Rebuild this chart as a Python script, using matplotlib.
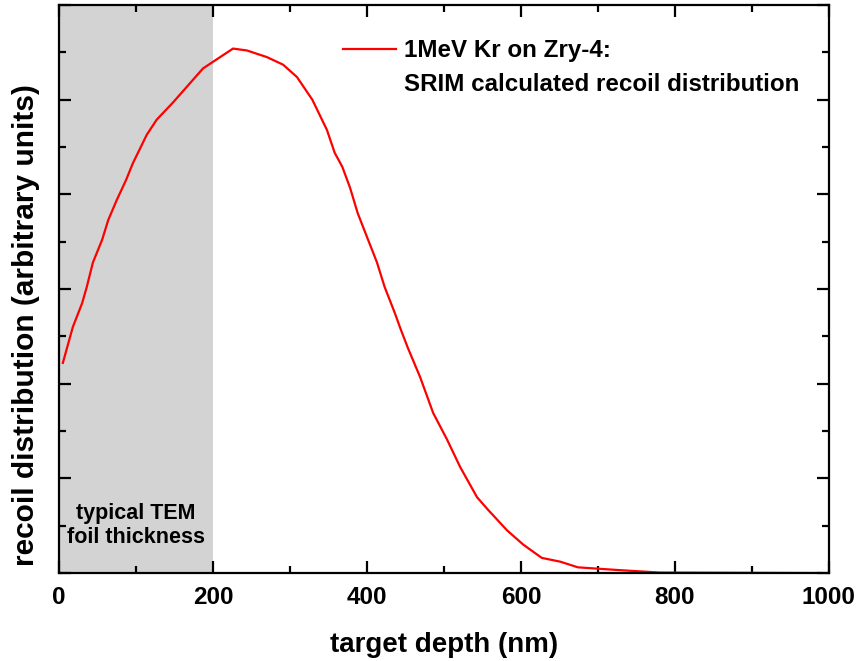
import matplotlib
matplotlib.use("Agg")
import matplotlib.pyplot as plt
from matplotlib.lines import Line2D
from matplotlib.ticker import MultipleLocator, NullFormatter

plt.rcParams['font.family'] = ['Liberation Sans', 'DejaVu Sans']
plt.rcParams['font.weight'] = 'bold'

# SRIM recoil profile, 1 MeV Kr into Zry-4 (arbitrary units)
depth_nm = [5, 18, 30, 36, 44, 56, 64, 75, 87, 96, 114, 127, 148, 174, 187, 200,
            226, 244, 270, 291, 309, 329, 348, 358, 368, 378, 388, 400, 413, 423,
            436, 444, 453, 469, 486, 504, 521, 543, 557, 582, 603, 627, 651, 674,
            729, 780, 988]
recoil = [2.22, 2.60, 2.85, 3.02, 3.28, 3.52, 3.73, 3.94, 4.15, 4.33, 4.63, 4.79,
          4.97, 5.21, 5.33, 5.40, 5.54, 5.52, 5.45, 5.37, 5.24, 5.00, 4.68, 4.44,
          4.29, 4.07, 3.80, 3.55, 3.28, 3.02, 2.75, 2.57, 2.38, 2.07, 1.69, 1.41,
          1.12, 0.80, 0.67, 0.45, 0.30, 0.16, 0.12, 0.06, 0.03, 0.005, 0.0]

foil_thickness = 200  # nm

fig = plt.figure(figsize=(8.59, 6.61), dpi=100)
ax = fig.add_axes([0.0687, 0.1331, 0.8963, 0.8593])

ax.axvspan(0, foil_thickness, color='#d3d3d3', lw=0, zorder=0)
ax.plot(depth_nm, recoil, color='red', lw=1.6, zorder=2)

ax.set_xlim(0, 1000)
ax.set_ylim(0, 6)
ax.xaxis.set_major_locator(MultipleLocator(200))
ax.xaxis.set_minor_locator(MultipleLocator(100))
ax.yaxis.set_major_locator(MultipleLocator(1))
ax.yaxis.set_minor_locator(MultipleLocator(0.5))
ax.yaxis.set_major_formatter(NullFormatter())

for s in ax.spines.values():
    s.set_linewidth(1.6)
ax.tick_params(which='both', direction='in', top=True, right=True, width=1.6)
ax.tick_params(which='major', length=8.5, labelsize=17.5, pad=9)
ax.tick_params(which='minor', length=5)

ax.set_xlabel('target depth (nm)', fontsize=20, fontweight='bold', labelpad=17)
ax.set_ylabel('recoil distribution (arbitrary units)', fontsize=21.5,
              fontweight='bold')
ax.yaxis.set_label_coords(-0.025, 0.437)

ax.text(foil_thickness / 2, 0.50, 'typical TEM\nfoil thickness', ha='center',
        va='center', fontsize=15.5, fontweight='bold', linespacing=1.15)

handles = [Line2D([], [], color='red', lw=1.6), Line2D([], [], color='none')]
labels = ['1MeV Kr on Zry-4:', 'SRIM calculated recoil distribution']
ax.legend(handles, labels, loc='upper left', bbox_to_anchor=(0.369, 0.94),
          frameon=False, fontsize=17.4, handlelength=2.2, handletextpad=0.3,
          labelspacing=0.45, borderpad=0, borderaxespad=0)

fig.savefig('out.png', dpi=100)
